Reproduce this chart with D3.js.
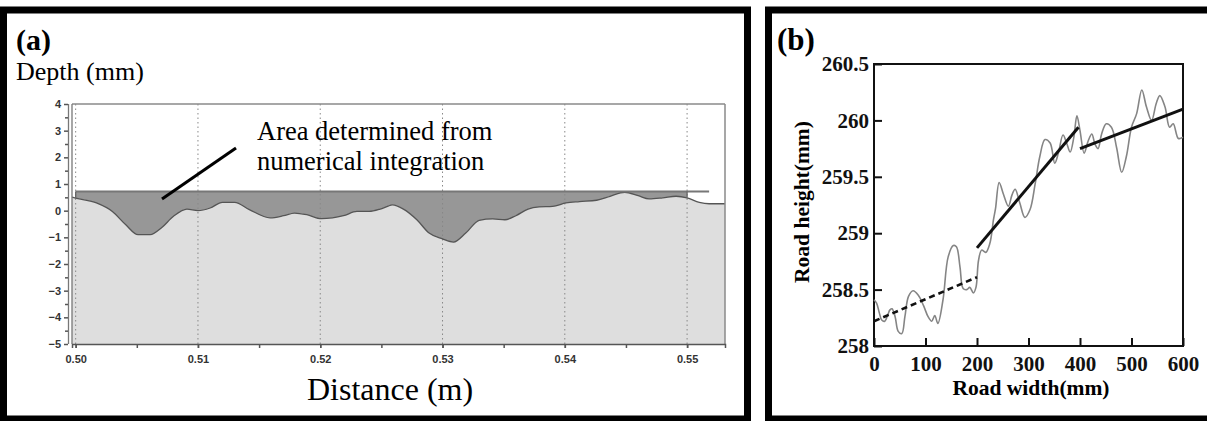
<!DOCTYPE html>
<html>
<head>
<meta charset="utf-8">
<script src="https://cdn.jsdelivr.net/npm/d3@7"></script>
<style>
  body { margin: 0; background: #fff; }
  svg { display: block; }
</style>
</head>
<body>
<div id="chart"></div>
<script>
// panel (a): surface profile, depth vs distance
const distA = [0.4997, 0.5000, 0.5017, 0.5030, 0.5041, 0.5051, 0.5061, 0.5070, 0.5080, 0.5091,
  0.5100, 0.5110, 0.5120, 0.5130, 0.5142, 0.5159, 0.5170, 0.5179, 0.5189, 0.5201, 0.5210,
  0.5219, 0.5230, 0.5240, 0.5249, 0.5255, 0.5259, 0.5268, 0.5279, 0.5289, 0.5300, 0.5309,
  0.5319, 0.5330, 0.5341, 0.5351, 0.5360, 0.5370, 0.5379, 0.5390, 0.5401, 0.5412, 0.5426,
  0.5437, 0.5449, 0.5460, 0.5469, 0.5480, 0.5491, 0.5500, 0.5510, 0.5518, 0.5531];
const depthA = [0.51, 0.47, 0.29, -0.03, -0.53, -0.90, -0.90, -0.65, -0.21, 0.06,
  0.00, 0.10, 0.31, 0.31, 0.04, -0.27, -0.19, -0.09, -0.15, -0.30, -0.27,
  -0.19, -0.03, -0.03, 0.06, 0.16, 0.22, 0.06, -0.34, -0.84, -1.06, -1.18,
  -0.84, -0.36, -0.31, -0.34, -0.19, 0.06, 0.14, 0.16, 0.29, 0.34, 0.39,
  0.54, 0.69, 0.56, 0.44, 0.48, 0.54, 0.48, 0.31, 0.26, 0.26];
const refDepth = 0.72;
const refRange = [0.5000, 0.5518];
const areaRange = [0.5000, 0.5500];
const xTicksA = [0.50, 0.51, 0.52, 0.53, 0.54, 0.55];
const xMinorA = [0.50, 0.505, 0.51, 0.515, 0.52, 0.525, 0.53, 0.535, 0.54, 0.545, 0.55];
const yTicksA = [-5, -4, -3, -2, -1, 0, 1, 2, 3, 4];
const yMinorA = [-4.5, -3.5, -2.5, -1.5, -0.5, 0.5, 1.5, 2.5, 3.5];

// panel (b): road height vs road width, with three fitted segments
const widthB = [0, 5, 10, 15, 21, 27, 31, 35, 41, 47, 54, 60, 67, 76, 86, 96, 105, 112, 118, 124,
  134, 144, 154, 160, 167, 173, 180, 186, 193, 198, 203, 209, 217, 225, 232, 236, 243, 251,
  261, 268, 274, 283, 293, 303, 313, 322, 332, 342, 351, 358, 367, 374, 381, 388, 394, 400,
  408, 416, 423, 429, 435, 442, 451, 461, 471, 481, 490, 500, 510, 520, 529, 539, 548, 555,
  565, 574, 581, 591, 600];
const heightB = [258.41, 258.38, 258.30, 258.23, 258.22, 258.28, 258.32, 258.33, 258.26, 258.13,
  258.11, 258.26, 258.44, 258.49, 258.45, 258.36, 258.26, 258.22, 258.27, 258.20,
  258.41, 258.79, 258.89, 258.88, 258.70, 258.51, 258.50, 258.52, 258.47, 258.52,
  258.76, 258.85, 258.83, 258.91, 259.12, 259.22, 259.45, 259.35,
  259.24, 259.34, 259.39, 259.27, 259.14, 259.21, 259.44, 259.68, 259.83, 259.80, 259.62,
  259.71, 259.87, 259.80, 259.72, 259.85, 260.04, 259.91,
  259.71, 259.82, 259.88, 259.79, 259.75, 259.88, 259.97, 259.94, 259.76, 259.54, 259.68,
  259.94, 260.06, 260.27, 260.12, 260.00, 260.15, 260.22,
  260.12, 259.94, 259.97, 259.84, 259.85];
const fitDashed = [[0, 258.22], [200, 258.61]];
const fitSolid1 = [[200, 258.87], [397, 259.94]];
const fitSolid2 = [[400, 259.75], [600, 260.10]];
const xTicksB = [0, 100, 200, 300, 400, 500, 600];
const yTicksB = [258, 258.5, 259, 259.5, 260, 260.5];

const svg = d3.select("#chart").append("svg").attr("width", 1207).attr("height", 421);
const serif = "'Liberation Serif', 'Times New Roman', serif";
const sans = "'Liberation Sans', Arial, sans-serif";

// panel frames
svg.append("rect").attr("x", 3.5).attr("y", 10).attr("width", 744).attr("height", 409)
  .attr("fill", "none").attr("stroke", "#000").attr("stroke-width", 7);
svg.append("rect").attr("x", 768.5).attr("y", 10).attr("width", 445).attr("height", 409)
  .attr("fill", "none").attr("stroke", "#000").attr("stroke-width", 7);

// ---------- panel (a) ----------
const xa = d3.scaleLinear().domain([0.4997, 0.5531]).range([72, 725]);
const ya = d3.scaleLinear().domain([-5, 4]).range([344, 104]);
const prof = distA.map((d, i) => ({x: d, y: depthA[i]}));
const ga = svg.append("g");

ga.append("path").datum(prof)
  .attr("fill", "#dedede")
  .attr("d", d3.area().x(d => xa(d.x)).y0(ya(-5)).y1(d => ya(d.y)).curve(d3.curveMonotoneX));

const inside = prof.filter(d => d.x >= areaRange[0] && d.x <= areaRange[1]);
ga.append("path").datum(inside)
  .attr("fill", "#979797")
  .attr("d", d3.area().x(d => xa(d.x)).y0(ya(refDepth)).y1(d => ya(d.y)).curve(d3.curveMonotoneX));

ga.selectAll("line.grid").data(xTicksA).join("line").attr("class", "grid")
  .attr("x1", d => xa(d)).attr("x2", d => xa(d))
  .attr("y1", ya(4)).attr("y2", ya(-5))
  .attr("stroke", "#888").attr("stroke-width", 1).attr("stroke-dasharray", "1.5,3");

ga.append("path").datum(prof)
  .attr("fill", "none").attr("stroke", "#555").attr("stroke-width", 1.3)
  .attr("d", d3.line().x(d => xa(d.x)).y(d => ya(d.y)).curve(d3.curveMonotoneX));

// reference level and area edges
ga.append("line")
  .attr("x1", xa(refRange[0])).attr("x2", xa(refRange[1]))
  .attr("y1", ya(refDepth)).attr("y2", ya(refDepth))
  .attr("stroke", "#777").attr("stroke-width", 2);
areaRange.forEach(v => {
  const yv = depthA[distA.indexOf(v)];
  ga.append("line").attr("x1", xa(v)).attr("x2", xa(v))
    .attr("y1", ya(refDepth)).attr("y2", ya(yv))
    .attr("stroke", "#666").attr("stroke-width", 1.3);
});

// plot frame
ga.append("line").attr("x1", 72).attr("x2", 725).attr("y1", ya(4)).attr("y2", ya(4))
  .attr("stroke", "#8a8a8a").attr("stroke-width", 1.5);
ga.append("line").attr("x1", 725).attr("x2", 725).attr("y1", ya(4)).attr("y2", ya(-5))
  .attr("stroke", "#8a8a8a").attr("stroke-width", 1.5);
[68.5, 72].forEach(x => ga.append("line").attr("x1", x).attr("x2", x)
  .attr("y1", ya(4)).attr("y2", ya(-5)).attr("stroke", "#777").attr("stroke-width", 1.3));

const yAxisA = ga.append("g").attr("transform", "translate(68,0)")
  .call(d3.axisLeft(ya).tickValues(yTicksA).tickSize(4).tickPadding(3).tickFormat(d3.format("d")));
ga.append("g").attr("transform", "translate(68,0)")
  .call(d3.axisLeft(ya).tickValues(yMinorA).tickSize(3).tickFormat(""))
  .call(g => g.select(".domain").remove());
const xAxisA = ga.append("g").attr("transform", `translate(0,${ya(-5)})`)
  .call(d3.axisBottom(xa).tickValues(xTicksA).tickSize(4).tickPadding(7).tickFormat(d3.format(".2f")));
ga.append("g").attr("transform", `translate(0,${ya(-5)})`)
  .call(d3.axisBottom(xa).tickValues(xMinorA).tickSize(4).tickFormat(""))
  .call(g => g.select(".domain").remove());
[yAxisA, xAxisA].forEach(ax => {
  ax.select(".domain").attr("stroke", "#555").attr("stroke-width", 1.5);
  ax.selectAll("text").attr("font-family", sans).attr("font-weight", "bold")
    .attr("font-size", 11).attr("fill", "#333");
});
yAxisA.select(".domain").remove();
ga.selectAll(".tick line").attr("stroke", "#555").attr("stroke-width", 1.5);

// annotation
ga.append("line").attr("x1", 236).attr("y1", 148).attr("x2", 162).attr("y2", 199)
  .attr("stroke", "#000").attr("stroke-width", 3);
const note = ga.append("text").attr("font-family", serif).attr("font-size", 26.5).attr("fill", "#000");
note.append("tspan").attr("x", 257).attr("y", 140).text("Area determined from");
note.append("tspan").attr("x", 257).attr("y", 170).text("numerical integration");

ga.append("text").attr("x", 16).attr("y", 50).attr("font-family", serif)
  .attr("font-weight", "bold").attr("font-size", 30).text("(a)");
ga.append("text").attr("x", 16).attr("y", 80).attr("font-family", serif)
  .attr("font-size", 26).text("Depth (mm)");
ga.append("text").attr("x", 390).attr("y", 400).attr("text-anchor", "middle")
  .attr("font-family", serif).attr("font-size", 32).text("Distance (m)");

// ---------- panel (b) ----------
const xb = d3.scaleLinear().domain([0, 600]).range([874, 1183]);
const yb = d3.scaleLinear().domain([258, 260.5]).range([346, 64]);
const gb = svg.append("g");

gb.append("rect").attr("x", xb(0)).attr("y", yb(260.5))
  .attr("width", xb(600) - xb(0)).attr("height", yb(258) - yb(260.5))
  .attr("fill", "none").attr("stroke", "#111").attr("stroke-width", 2);

const lineB = d3.line().x(d => xb(d[0])).y(d => yb(d[1]));
gb.append("path").datum(widthB.map((w, i) => [w, heightB[i]]))
  .attr("fill", "none").attr("stroke", "#858585").attr("stroke-width", 1.6)
  .attr("d", lineB.curve(d3.curveCatmullRom.alpha(0.5)));

const fitLine = d3.line().x(d => xb(d[0])).y(d => yb(d[1]));
gb.append("path").datum(fitDashed).attr("fill", "none").attr("stroke", "#111")
  .attr("stroke-width", 2.6).attr("stroke-dasharray", "6,4").attr("d", fitLine);
[fitSolid1, fitSolid2].forEach(seg => gb.append("path").datum(seg)
  .attr("fill", "none").attr("stroke", "#111").attr("stroke-width", 3).attr("d", fitLine));

const yAxisB = gb.append("g").attr("transform", `translate(${xb(0)},0)`)
  .call(d3.axisLeft(yb).tickValues(yTicksB).tickSize(-8).tickPadding(5).tickFormat(d => d));
const xAxisB = gb.append("g").attr("transform", `translate(0,${yb(258)})`)
  .call(d3.axisBottom(xb).tickValues(xTicksB).tickSize(-8).tickPadding(10));
[yAxisB, xAxisB].forEach(ax => {
  ax.select(".domain").remove();
  ax.selectAll(".tick line").attr("stroke", "#111").attr("stroke-width", 2);
  ax.selectAll("text").attr("font-family", serif).attr("font-weight", "bold")
    .attr("font-size", 21).attr("fill", "#111");
});

gb.append("text").attr("x", 777).attr("y", 50).attr("font-family", serif)
  .attr("font-weight", "bold").attr("font-size", 31).text("(b)");
gb.append("text").attr("x", 1031).attr("y", 395).attr("text-anchor", "middle")
  .attr("font-family", serif).attr("font-weight", "bold").attr("font-size", 21.5)
  .text("Road width(mm)");
gb.append("text").attr("transform", "translate(809,202) rotate(-90)")
  .attr("text-anchor", "middle").attr("font-family", serif).attr("font-weight", "bold")
  .attr("font-size", 21.5).text("Road height(mm)");
</script>
</body>
</html>
